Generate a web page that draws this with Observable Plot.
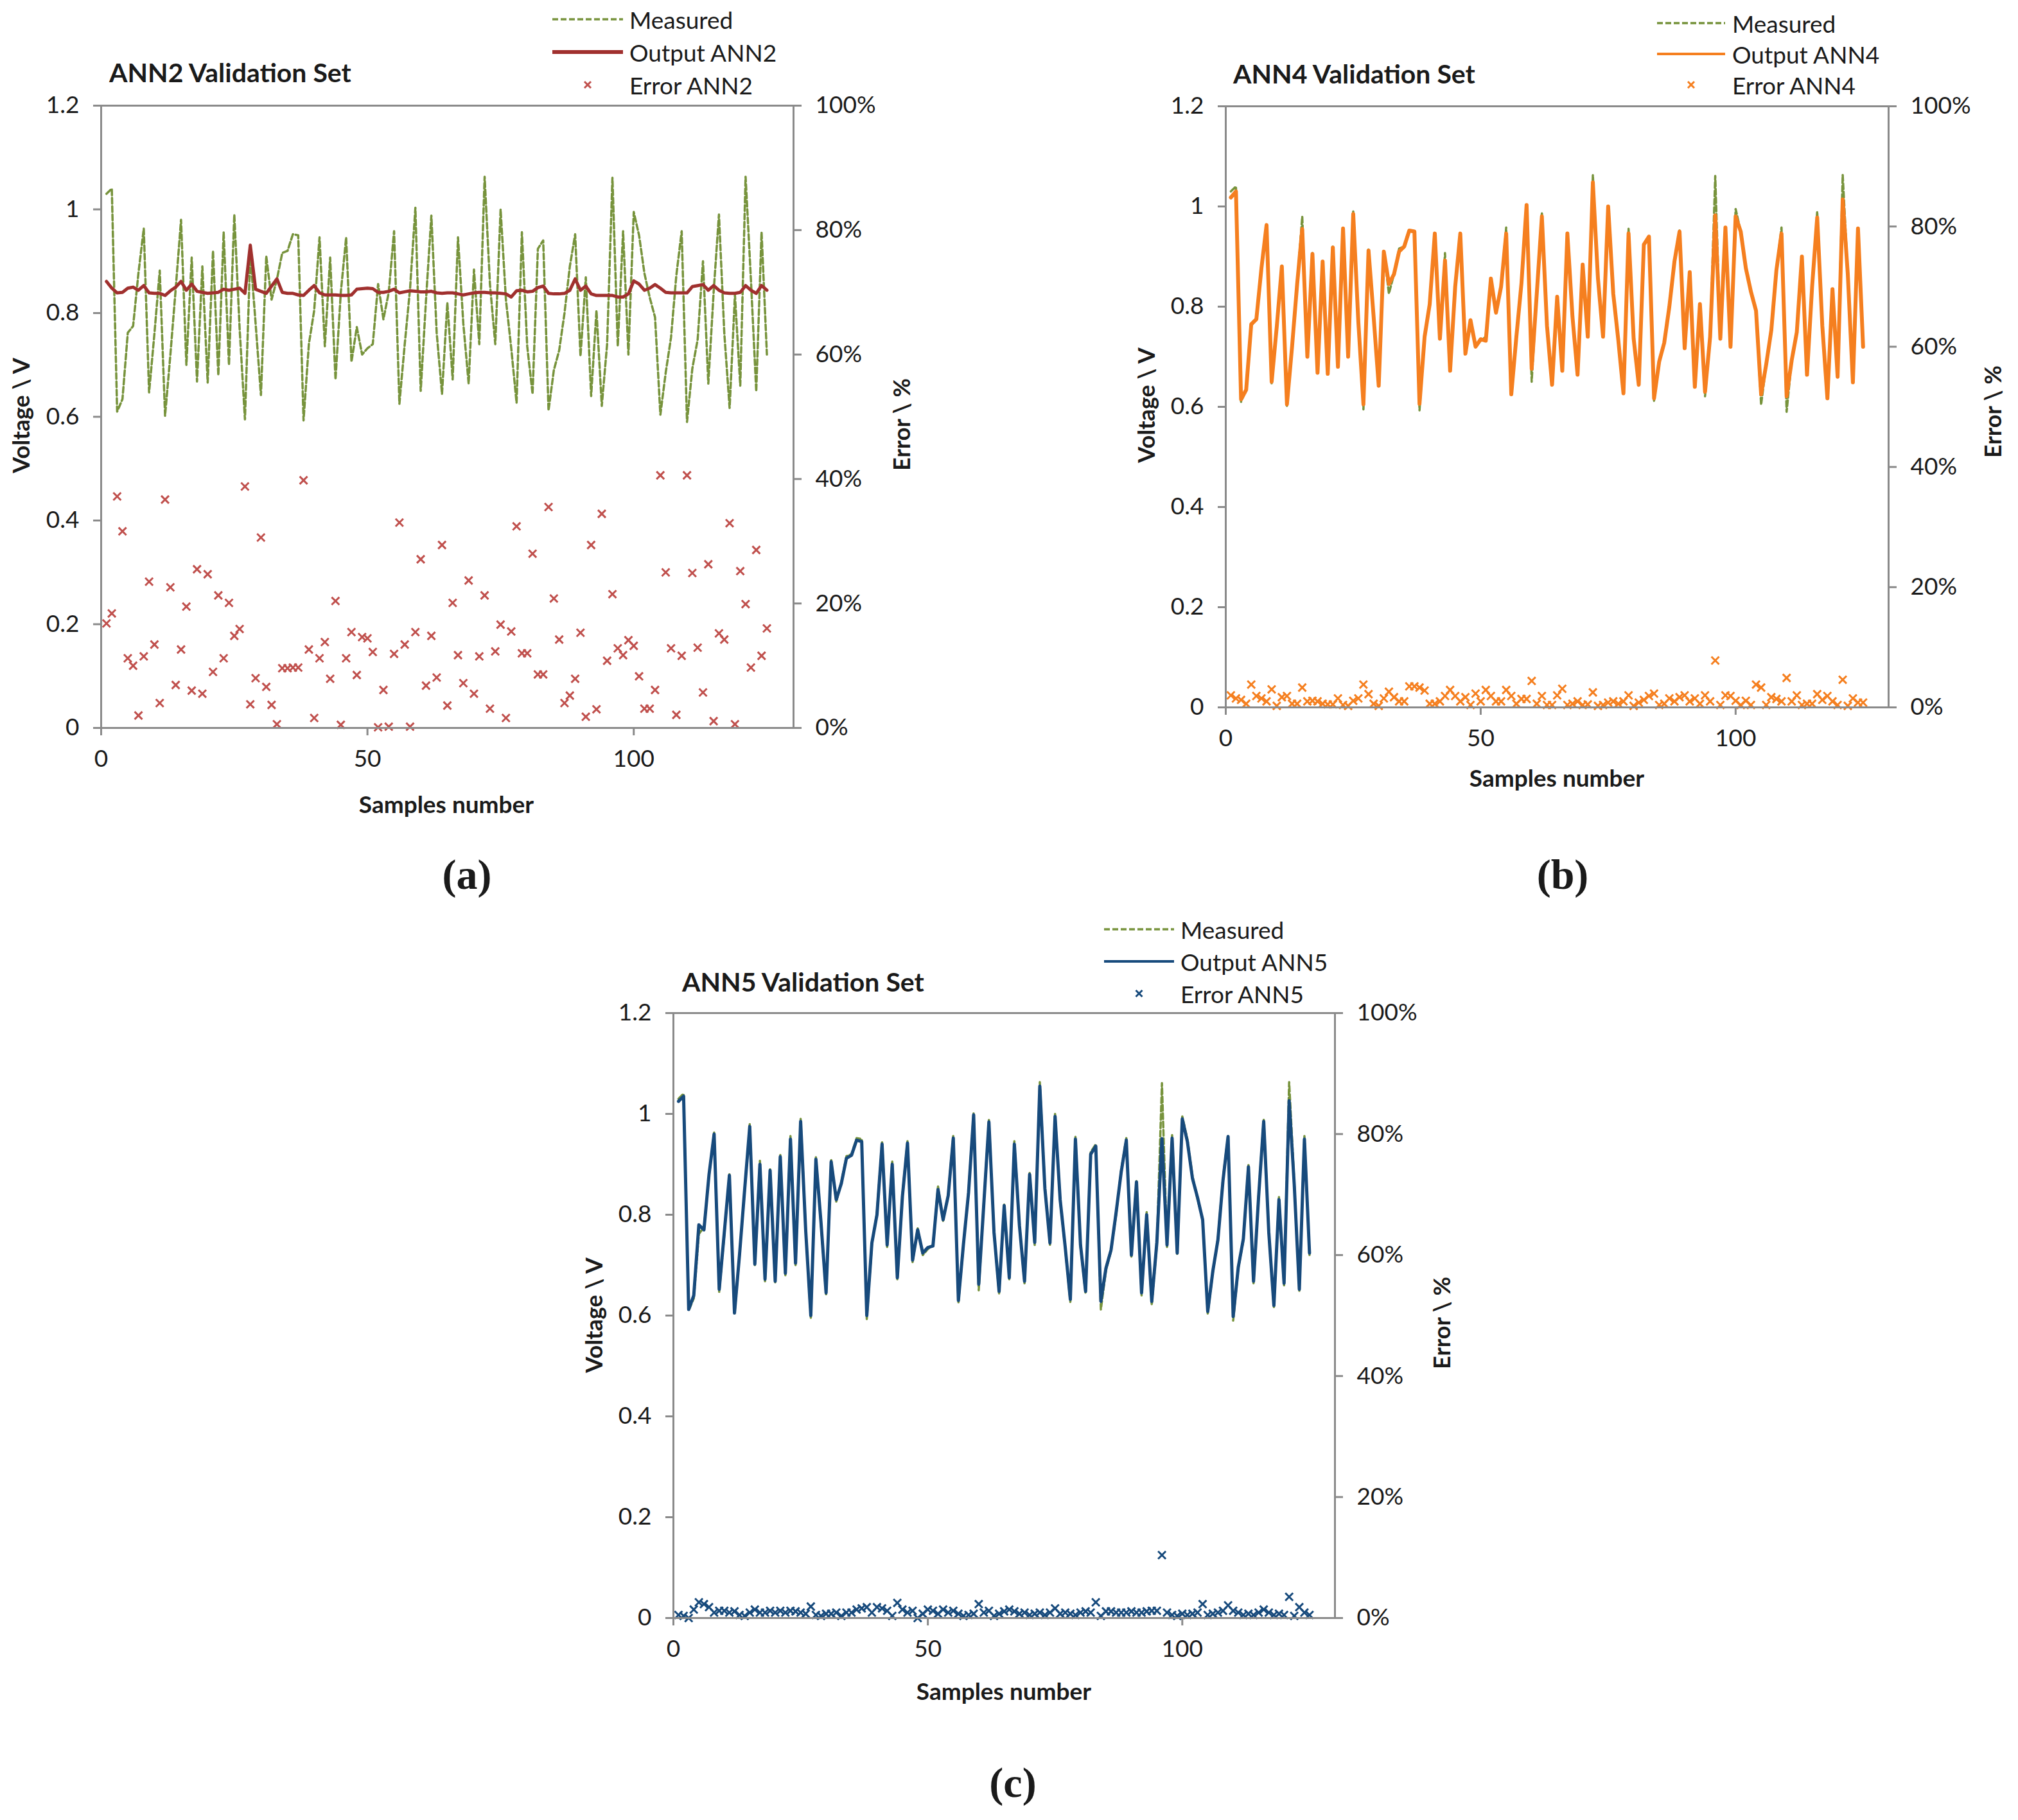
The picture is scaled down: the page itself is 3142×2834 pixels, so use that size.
<!DOCTYPE html>
<html><head><meta charset="utf-8">
<script src="https://cdn.jsdelivr.net/npm/d3@7"></script>
<script src="https://cdn.jsdelivr.net/npm/@observablehq/plot@0.6"></script>
<style>
html,body{margin:0;padding:0;background:#fff;}
#root{position:relative;width:3142px;height:2834px;background:#fff;overflow:hidden;font-family:Lato,"Open Sans",sans-serif;color:#1a1a1a;}
.t{position:absolute;white-space:nowrap;line-height:1;}
.abs{position:absolute;}
</style>
</head><body><div id="root"></div>
<script>
// ---------- data (samples 1..125) ----------
const voltTicks = [0, 0.2, 0.4, 0.6, 0.8, 1, 1.2];
const errTicks = [0, 20, 40, 60, 80, 100];
const sampleTicks = [0, 50, 100];

const measured = [1.03,1.04,0.61,0.634,0.762,0.775,0.877,0.963,0.647,0.76,
0.882,0.602,0.72,0.847,0.98,0.70,0.907,0.668,0.89,0.666,
0.92,0.68,0.956,0.70,0.99,0.77,0.595,0.914,0.78,0.642,
0.91,0.826,0.865,0.916,0.92,0.952,0.95,0.593,0.74,0.805,
0.946,0.736,0.907,0.672,0.84,0.946,0.706,0.773,0.72,0.732,
0.74,0.856,0.788,0.84,0.958,0.625,0.74,0.847,1.003,0.65,
0.826,0.988,0.762,0.644,0.82,0.672,0.946,0.78,0.664,0.884,
0.74,1.063,0.856,0.74,1.0,0.826,0.732,0.627,0.956,0.736,
0.644,0.924,0.94,0.612,0.69,0.728,0.80,0.89,0.952,0.717,
0.869,0.64,0.805,0.621,0.74,1.061,0.736,0.958,0.72,0.995,
0.95,0.877,0.83,0.792,0.604,0.685,0.753,0.873,0.958,0.59,
0.693,0.749,0.90,0.664,0.84,0.99,0.762,0.617,0.835,0.66,
1.063,0.865,0.649,0.956,0.72];

const outputANN2 = [0.861,0.848,0.839,0.840,0.848,0.850,0.844,0.853,0.839,0.838,
0.838,0.834,0.843,0.850,0.861,0.844,0.856,0.842,0.840,0.838,
0.839,0.840,0.846,0.844,0.846,0.848,0.838,0.931,0.846,0.842,
0.838,0.852,0.866,0.840,0.838,0.838,0.835,0.834,0.844,0.853,
0.839,0.835,0.835,0.835,0.834,0.834,0.835,0.846,0.847,0.848,
0.847,0.840,0.840,0.842,0.846,0.839,0.841,0.843,0.842,0.841,
0.841,0.842,0.839,0.838,0.839,0.839,0.837,0.835,0.837,0.839,
0.840,0.840,0.839,0.839,0.838,0.837,0.831,0.843,0.844,0.841,
0.842,0.849,0.852,0.838,0.837,0.837,0.838,0.844,0.866,0.844,
0.852,0.837,0.834,0.834,0.834,0.834,0.831,0.831,0.837,0.862,
0.856,0.844,0.848,0.855,0.848,0.840,0.839,0.839,0.839,0.839,
0.851,0.853,0.855,0.844,0.853,0.844,0.839,0.838,0.838,0.840,
0.853,0.844,0.838,0.853,0.844];

const errorANN2 = [16.8,18.4,37.2,31.6,11.2,10.0,2.0,11.5,23.5,13.4,
4.0,36.7,22.6,6.9,12.6,19.5,6.0,25.5,5.5,24.7,
9.0,21.3,11.2,20.1,14.8,15.9,38.8,3.8,8.0,30.6,
6.6,3.7,0.6,9.6,9.6,9.7,9.7,39.8,12.6,1.6,
11.2,13.8,7.9,20.4,0.5,11.2,15.4,8.5,14.6,14.4,
12.2,0.1,6.1,0.2,11.9,33.0,13.4,0.2,15.4,27.1,
6.8,14.8,8.1,29.4,3.6,20.1,11.7,7.2,23.7,5.5,
11.5,21.3,3.1,12.3,16.6,1.6,15.5,32.4,12.0,12.0,
28.0,8.6,8.6,35.5,20.8,14.2,4.0,5.2,7.9,15.3,
1.8,29.4,3.0,34.4,10.8,21.5,12.8,11.7,14.1,13.2,
8.3,3.1,3.1,6.1,40.6,25.0,12.8,2.1,11.6,40.6,
24.9,12.9,5.7,26.3,1.1,15.2,14.2,32.9,0.6,25.2,
19.9,9.7,28.6,11.6,16.0];

const outputANN4 = [1.018,1.03,0.615,0.634,0.765,0.775,0.877,0.963,0.65,0.76,
0.88,0.605,0.72,0.845,0.955,0.70,0.905,0.668,0.89,0.666,
0.918,0.68,0.956,0.70,0.985,0.77,0.605,0.912,0.78,0.642,
0.91,0.845,0.865,0.91,0.92,0.952,0.95,0.606,0.74,0.805,
0.946,0.736,0.892,0.672,0.84,0.946,0.706,0.773,0.72,0.735,
0.732,0.856,0.788,0.84,0.946,0.625,0.74,0.847,1.003,0.676,
0.826,0.98,0.762,0.644,0.82,0.672,0.946,0.78,0.664,0.884,
0.74,1.048,0.856,0.74,1.0,0.826,0.732,0.627,0.946,0.736,
0.644,0.924,0.94,0.617,0.69,0.728,0.80,0.89,0.95,0.717,
0.869,0.64,0.805,0.63,0.74,0.982,0.736,0.958,0.72,0.98,
0.95,0.877,0.83,0.792,0.625,0.685,0.753,0.873,0.946,0.621,
0.693,0.749,0.90,0.664,0.84,0.978,0.762,0.617,0.835,0.66,
1.014,0.865,0.649,0.956,0.72];

const errorANN4 = [2.0,1.5,1.25,0.6,3.8,1.9,1.5,1.0,3.0,0.25,
1.7,1.9,0.6,0.6,3.3,1.0,1.1,1.0,0.6,0.5,
0.5,1.5,0.4,0.25,1.1,1.5,3.8,2.2,0.6,0.25,
1.5,2.6,1.7,1.0,1.0,3.5,3.5,3.3,2.8,0.6,
0.6,1.0,1.9,2.9,1.9,1.0,1.7,0.4,2.3,1.0,
2.9,1.9,1.0,1.0,2.9,1.9,0.6,1.4,1.4,4.4,
0.6,1.9,0.4,0.4,2.0,3.1,0.4,0.6,1.0,0.4,
0.5,2.5,0.25,0.4,0.8,1.0,0.6,1.0,2.0,0.25,
0.8,1.25,1.9,2.3,0.4,0.6,1.5,1.0,1.7,2.0,
1.0,1.5,0.6,2.0,1.0,7.8,0.4,2.0,1.9,1.1,
0.4,1.1,0.4,3.8,3.3,0.4,1.7,1.4,1.0,4.9,
1.0,2.0,0.4,0.6,0.6,2.2,1.25,1.9,1.0,0.4,
4.6,0.25,1.5,0.8,0.8];

const outputANN5 = [1.025,1.035,0.612,0.64,0.78,0.77,0.88,0.96,0.652,0.765,
0.878,0.605,0.722,0.85,0.975,0.702,0.9,0.672,0.888,0.668,
0.915,0.684,0.95,0.704,0.985,0.768,0.6,0.91,0.785,0.645,
0.905,0.83,0.862,0.912,0.918,0.948,0.945,0.6,0.744,0.8,
0.94,0.74,0.9,0.675,0.836,0.942,0.71,0.77,0.724,0.735,
0.738,0.85,0.79,0.838,0.952,0.63,0.742,0.844,0.998,0.662,
0.822,0.984,0.765,0.648,0.818,0.675,0.94,0.778,0.668,0.88,
0.745,1.055,0.852,0.744,0.995,0.83,0.735,0.632,0.95,0.74,
0.648,0.92,0.936,0.628,0.694,0.73,0.805,0.885,0.948,0.72,
0.865,0.645,0.8,0.628,0.745,0.951,0.74,0.952,0.724,0.99,
0.945,0.872,0.834,0.79,0.608,0.688,0.75,0.868,0.955,0.598,
0.696,0.752,0.895,0.668,0.836,0.985,0.765,0.62,0.83,0.664,
1.026,0.86,0.652,0.95,0.724];

const errorANN5 = [0.5,0.35,0.0,1.4,2.6,2.3,1.8,0.9,1.2,1.2,
0.9,1.1,0.5,0.35,0.9,1.4,0.9,0.9,1.2,0.9,
1.2,0.9,1.2,1.1,0.9,0.7,1.9,0.5,0.35,0.7,
0.7,0.9,0.35,0.9,0.9,1.4,1.6,1.8,0.9,1.8,
1.6,1.2,0.35,2.5,1.4,0.9,1.2,0.0,0.7,1.4,
1.2,0.7,1.4,0.9,1.2,0.7,0.35,0.5,0.7,2.3,
0.9,1.2,0.35,0.7,1.1,1.4,1.1,0.7,0.9,0.5,
0.7,0.9,0.5,0.9,1.6,0.7,0.9,0.7,0.5,0.9,
1.1,0.9,2.6,0.35,1.1,1.1,0.9,0.9,0.9,1.1,
0.9,0.9,1.1,1.2,1.2,10.4,0.9,0.5,0.35,0.7,
0.5,0.7,0.9,2.3,0.5,0.7,0.9,1.2,2.1,1.2,
0.9,0.5,0.7,0.5,0.9,1.4,0.9,0.5,0.7,0.5,
3.5,0.35,1.8,0.9,0.5];

// ---------- styling ----------
const GREEN = "#77933C", AXIS = "#8a8a8a", TXT = "#1a1a1a";
const root = document.getElementById("root");

function text(str, x, y, o = {}) {
  const d = document.createElement("div");
  d.className = "t";
  d.textContent = str;
  d.style.fontSize = (o.size || 37) + "px";
  d.style.fontWeight = o.weight || "normal";
  d.style.fontFamily = o.family || "Lato, sans-serif";
  d.style.color = o.color || TXT;
  d.style.left = x + "px";
  d.style.top = y + "px";
  let tr = o.anchor === "middle" ? "translate(-50%,-50%)" : "translate(0,-50%)";
  if (o.rotate) tr = "translate(-50%,-50%) rotate(-90deg)";
  d.style.transform = tr;
  root.appendChild(d);
}

function legend(x0, x1, ys, tx, outColor, outW, errColor, names) {
  const ns = "http://www.w3.org/2000/svg";
  const svg = document.createElementNS(ns, "svg");
  svg.setAttribute("class", "abs");
  svg.style.left = "0px"; svg.style.top = "0px";
  svg.setAttribute("width", 3142); svg.setAttribute("height", 2834);
  svg.style.pointerEvents = "none";
  const mk = (tag, attrs) => { const e = document.createElementNS(ns, tag); for (const k in attrs) e.setAttribute(k, attrs[k]); svg.appendChild(e); };
  mk("line", {x1: x0, x2: x1, y1: ys[0], y2: ys[0], stroke: GREEN, "stroke-width": 3.5, "stroke-dasharray": "9,4"});
  mk("line", {x1: x0, x2: x1, y1: ys[1], y2: ys[1], stroke: outColor, "stroke-width": outW});
  const cx = (x0 + x1) / 2, r = 5;
  mk("path", {d: `M${cx-r},${ys[2]-r}L${cx+r},${ys[2]+r}M${cx-r},${ys[2]+r}L${cx+r},${ys[2]-r}`, stroke: errColor, "stroke-width": 3, fill: "none"});
  root.appendChild(svg);
  names.forEach((n, i) => text(n, tx, ys[i], {size: 37}));
}

function panel(o) {
  const pw = o.plotW, ph = o.plotH;
  const ml = o.plotX - o.left, mt = o.plotY - o.top, mr = 170, mb = 110;
  const chart = Plot.plot({
    width: ml + pw + mr,
    height: mt + ph + mb,
    marginLeft: ml, marginTop: mt, marginRight: mr, marginBottom: mb,
    style: {fontFamily: "Lato, sans-serif", fontSize: "37px", background: "transparent", overflow: "visible"},
    x: {domain: [0, 130]},
    y: {domain: [0, 1.2]},
    marks: [
      Plot.axisX({ticks: sampleTicks, tickSize: 12, tickPadding: 22, stroke: AXIS, strokeWidth: 3, fill: TXT, label: null}),
      Plot.axisY({anchor: "left", ticks: voltTicks, tickFormat: d => String(+d.toFixed(1)), tickSize: 12, tickPadding: 22, stroke: AXIS, strokeWidth: 3, fill: TXT, label: null}),
      Plot.axisY({anchor: "right", ticks: errTicks.map(p => p / 100 * 1.2), tickFormat: d => Math.round(d / 1.2 * 100) + "%", tickSize: 12, tickPadding: 22, stroke: AXIS, strokeWidth: 3, fill: TXT, label: null}),
      Plot.line(measured, {x: (d, i) => i + 1, y: d => d, stroke: GREEN, strokeWidth: 3.5, strokeDasharray: "9,4"}),
      Plot.line(o.output, {x: (d, i) => i + 1, y: d => d, stroke: o.outColor, strokeWidth: o.outW, strokeLinejoin: "round"}),
      Plot.dot(o.error, {x: (d, i) => i + 1, y: d => d / 100 * 1.2, symbol: "times", r: 5.5, stroke: o.errColor, strokeWidth: 3}),
      Plot.ruleY([0], {stroke: AXIS, strokeWidth: 3}),
      Plot.frame({stroke: AXIS, strokeWidth: 3})
    ]
  });
  const wrap = document.createElement("div");
  wrap.className = "abs";
  wrap.style.left = o.left + "px"; wrap.style.top = o.top + "px";
  wrap.appendChild(chart);
  root.appendChild(wrap);
}

// ---------- panel (a) ----------
panel({left: 0, top: 100, plotX: 157, plotY: 164, plotW: 1078, plotH: 969,
  output: outputANN2, outColor: "#A0302E", outW: 5, error: errorANN2, errColor: "#C0504D"});
text("ANN2 Validation Set", 170, 112, {size: 41, weight: "bold"});
legend(860, 970, [30, 81, 132], 980, "#A0302E", 6, "#C0504D", ["Measured", "Output ANN2", "Error ANN2"]);
text("Voltage \\ V", 32, 647, {size: 36, weight: "bold", rotate: true});
text("Error \\ %", 1403, 661, {size: 36, weight: "bold", rotate: true});
text("Samples number", 695, 1251, {size: 37, weight: "bold", anchor: "middle"});
text("(a)", 727, 1362, {size: 66, weight: "bold", family: "'Liberation Serif', 'DejaVu Serif', serif", anchor: "middle"});

// ---------- panel (b) ----------
panel({left: 1760, top: 100, plotX: 1908, plotY: 165, plotW: 1032, plotH: 936,
  output: outputANN4, outColor: "#F57F1F", outW: 6, error: errorANN4, errColor: "#F57F1F"});
text("ANN4 Validation Set", 1920, 114, {size: 41, weight: "bold"});
legend(2580, 2686, [36, 84, 132], 2697, "#F57F1F", 4, "#F57F1F", ["Measured", "Output ANN4", "Error ANN4"]);
text("Voltage \\ V", 1784, 631, {size: 36, weight: "bold", rotate: true});
text("Error \\ %", 3102, 641, {size: 36, weight: "bold", rotate: true});
text("Samples number", 2424, 1210, {size: 37, weight: "bold", anchor: "middle"});
text("(b)", 2433, 1362, {size: 66, weight: "bold", family: "'Liberation Serif', 'DejaVu Serif', serif", anchor: "middle"});

// ---------- panel (c) ----------
panel({left: 900, top: 1500, plotX: 1048, plotY: 1577, plotW: 1030, plotH: 942,
  output: outputANN5, outColor: "#174A7C", outW: 5, error: errorANN5, errColor: "#174A7C"});
text("ANN5 Validation Set", 1062, 1528, {size: 41, weight: "bold"});
legend(1719, 1828, [1447, 1497, 1547], 1838, "#174A7C", 4, "#174A7C", ["Measured", "Output ANN5", "Error ANN5"]);
text("Voltage \\ V", 924, 2048, {size: 36, weight: "bold", rotate: true});
text("Error \\ %", 2244, 2060, {size: 36, weight: "bold", rotate: true});
text("Samples number", 1563, 2632, {size: 37, weight: "bold", anchor: "middle"});
text("(c)", 1577, 2776, {size: 66, weight: "bold", family: "'Liberation Serif', 'DejaVu Serif', serif", anchor: "middle"});
</script>
</body></html>
